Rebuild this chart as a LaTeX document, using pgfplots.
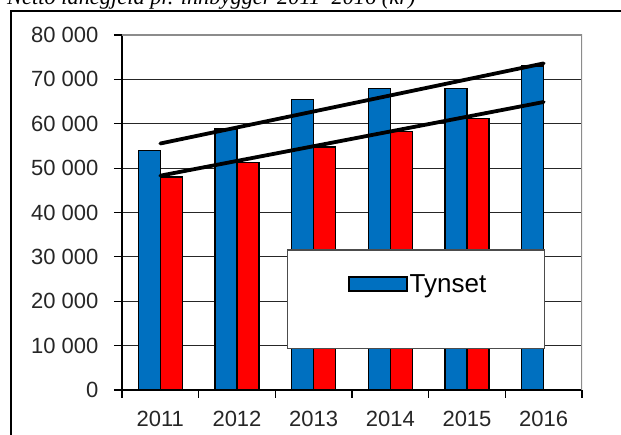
\documentclass[border=0pt]{standalone}
\usepackage{pgfplots}
\pgfplotsset{compat=1.18}
\usepackage{fontspec}
\setmainfont{Liberation Sans}
\newfontfamily\titlefont{Liberation Serif}
\definecolor{tynblue}{RGB}{0,112,192}
\definecolor{tynred}{RGB}{255,0,0}

\begin{document}
\begin{tikzpicture}
\useasboundingbox (0,0) rectangle (621pt,435pt);
\clip (0,0) rectangle (621pt,435pt);
% title, cut at the top as in the source
\node[anchor=base west, inner sep=0pt, font=\titlefont\itshape\fontsize{22.4}{26}\selectfont]
  at (7pt,430pt) {Netto lånegjeld pr. innbygger 2011–2016 (kr)};
% chart frame
\draw[line width=1.5pt] (11pt,0pt) -- (11pt,424pt);
\draw[line width=2pt] (10.25pt,424pt) -- (621pt,424pt);
\begin{axis}[
  at={(122pt,45pt)}, anchor=south west,
  scale only axis, width=460pt, height=355pt,
  bar width=22pt,
  xmin=-0.5, xmax=5.5, ymin=0, ymax=80000,
  axis x line=bottom, axis y line=left,
  axis line style={-, line width=1.2pt},
  xtick={0,...,5}, xticklabels={2011,2012,2013,2014,2015,2016},
  major x tick style={draw=none},
  minor xtick={-0.5,0.5,...,5.5},
  ytick={0,10000,...,80000},
  tick align=outside,
  major tick length=8pt, minor tick length=8pt,
  tick style={black, line width=1.2pt},
  ymajorgrids, grid style={black!85, line width=0.9pt},
  scaled y ticks=false,
  /pgf/number format/1000 sep={\ },
  /pgf/number format/assume math mode=true,
  tick label style={font=\fontsize{22}{26}\selectfont, black!85},
  yticklabel style={xshift=-12pt},
  xticklabel style={yshift=-10pt},
  legend style={draw=none, fill=none, at={(0.4913,0.2986)}, anchor=west,
    inner sep=0pt, font=\fontsize{26}{30}\selectfont,
    /tikz/every even column/.style={column sep=6pt}},
]
\addplot[ybar, bar shift=-11pt, fill=tynblue, draw=black, line width=1.5pt,
  legend image code/.code={\draw[fill=tynblue, draw=black, line width=1.5pt] (0pt,-7pt) rectangle (58pt,7pt);}]
  coordinates {(0,54000) (1,58800) (2,65500) (3,67900) (4,67900) (5,73000)};
\addlegendentry{Tynset}
\addplot[ybar, bar shift=11pt, fill=tynred, draw=black, line width=1.5pt, forget plot]
  coordinates {(0,48000) (1,51300) (2,54800) (3,58200) (4,61200)};
% trend lines
\addplot[sharp plot, black, line width=3.8pt, line cap=round, forget plot]
  coordinates {(0,55550) (5,73600)};
\addplot[sharp plot, black, line width=3.8pt, line cap=round, forget plot]
  coordinates {(0,48300) (5,64900)};
% legend frame
\draw[fill=white, draw=black!70, line width=1.2pt] (axis cs:1.656,31530) rectangle (axis cs:5.008,9390);
% plot area border
\draw[black!45, line width=1.5pt] (rel axis cs:0,1) -- (rel axis cs:1,1) -- (rel axis cs:1,0);
\end{axis}
\end{tikzpicture}
\end{document}
